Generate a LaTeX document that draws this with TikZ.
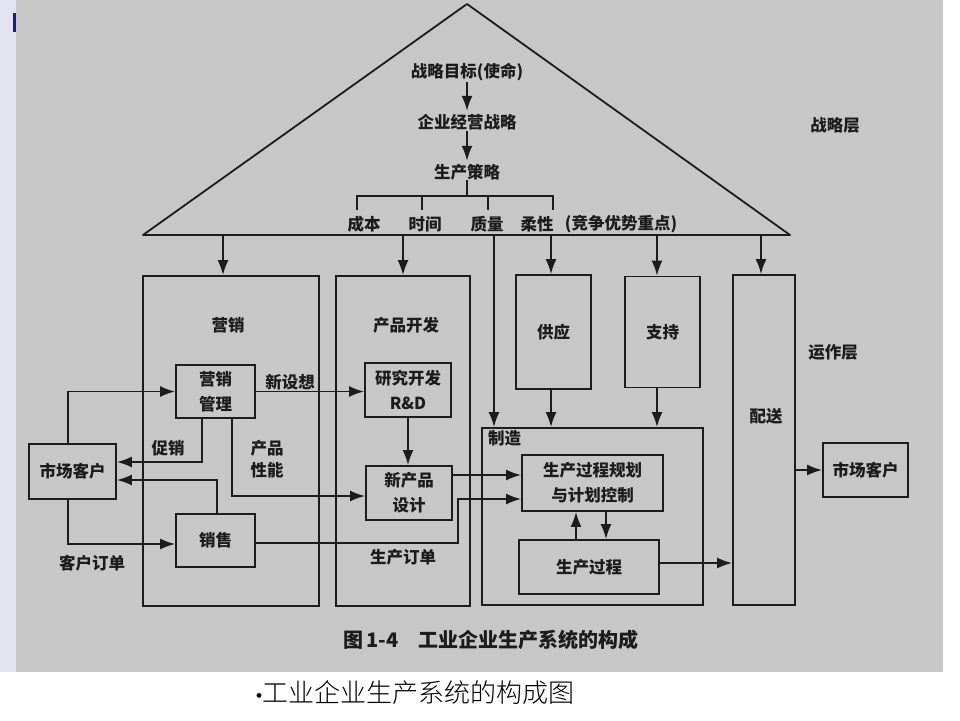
\documentclass[tikz,border=0pt]{standalone}
\usepackage{fontspec}
\setmainfont{Noto Sans CJK SC}
\newfontfamily\cjklight{Noto Sans CJK SC Light}
\newfontfamily\bulletfont{Liberation Serif}
\usetikzlibrary{arrows.meta}
\definecolor{scan}{RGB}{199,199,199}
\definecolor{ink}{RGB}{28,28,28}
\definecolor{strip}{RGB}{228,228,240}
\definecolor{markblue}{RGB}{30,30,120}
\newcommand\dgfont{\fontsize{16.5}{25}\selectfont\bfseries}
\begin{document}
\begin{tikzpicture}[x=1pt,y=-1pt,
  ln/.style={draw=ink, line width=1.8pt},
  arr/.style={ln, -{Latex[length=15pt,width=11pt]}},
  box/.style={draw=ink, line width=1.8pt, rectangle, inner sep=0pt, align=center, font=\dgfont, text=ink},
  lbl/.style={font=\dgfont, inner sep=0pt, align=center, text=ink},
]
\useasboundingbox (0,0) rectangle (960,720);
% background
\fill[white] (0,0) rectangle (960,720);
\fill[strip] (0,0) rectangle (16,672);
\fill[markblue] (13,13) rectangle (16,32);
\fill[scan] (16,0) rectangle (943,672);

% strategy triangle
\draw[ln, line join=round] (143,235) -- (467,4) -- (790,235) -- cycle;
\coordinate (tribase) at (0,235);
\node[lbl] (goal) at (467,72) {战略目标(使命)};
\node[lbl] (biz) at (467,122) {企业经营战略};
\node[lbl] (prodstr) at (467,172) {生产策略};
\draw[arr, shorten >=3pt, shorten <=1pt] (goal.south) -- (biz.north);
\draw[arr, shorten >=3pt, shorten <=1pt] (biz.south) -- (prodstr.north);
\coordinate (br) at (467,196);
\draw[ln] (prodstr.south) -- (br);
\draw[ln] (357,210) |- (553,196) -- (553,210);
\draw[ln] (422,196) -- (422,210);
\draw[ln] (488,196) -- (488,210);
\node[lbl] (cost) at (364,224) {成本};
\node[lbl] (time) at (425,224) {时间};
\node[lbl] (qual) at (487,224) {质量};
\node[lbl] (flex) at (537,224) {柔性};
\node[lbl] (comp) at (621,224) {(竞争优势重点)};
\node[lbl] (stratL) at (835,125) {战略层};
\node[lbl] (opL) at (833,352) {运作层};

% big boxes
\node[box, minimum width=176pt, minimum height=330pt] (mktg) at (231,441) {};
\node[lbl] (mktgL) at (228,325) {营销};
\node[box, minimum width=134pt, minimum height=330pt] (pdev) at (403,441) {};
\node[lbl] (pdevL) at (406,325) {产品开发};
\node[box, minimum width=75pt, minimum height=114pt] (supply) at (553.5,332) {供应};
\node[box, minimum width=75pt, minimum height=111pt] (support) at (662.5,332) {支持};
\node[box, minimum width=62pt, minimum height=330pt] (dist) at (764,440) {};
\node[lbl] (distL) at (766,416) {配送};
\node[box, minimum width=221pt, minimum height=177pt] (mfg) at (592.5,516.5) {};
\node[lbl, anchor=west] (mfgL) at (488,438) {制造};

% small boxes
\node[box, minimum width=79pt, minimum height=53pt] (mgmt) at (215.5,391.5) {营销\\管理};
\node[box, minimum width=79pt, minimum height=53pt] (sales) at (215.5,540.5) {销售};
\node[box, minimum width=86pt, minimum height=54pt] (rd) at (408,390) {研究开发\\R\&D};
\node[box, minimum width=86pt, minimum height=54pt] (npd) at (409,493) {新产品\\设计};
\node[box, minimum width=87pt, minimum height=55pt] (custL) at (72.5,471.5) {市场客户};
\node[box, minimum width=85pt, minimum height=54pt] (custR) at (865.5,470) {市场客户};
\node[box, minimum width=141pt, minimum height=56pt] (plan) at (592.5,483) {生产过程规划\\与计划控制};
\node[box, minimum width=140pt, minimum height=54pt] (proc) at (589,567) {生产过程};

% arrows from the triangle base
\coordinate (x1) at (223,0);
\coordinate (x2) at (403,0);
\coordinate (x3) at (494,0);
\coordinate (x4) at (551,0);
\coordinate (x5) at (657,0);
\coordinate (x6) at (761,0);
\draw[arr] (x1 |- tribase) -- (x1 |- mktg.north);
\draw[arr] (x2 |- tribase) -- (x2 |- pdev.north);
\draw[arr] (x3 |- tribase) -- (x3 |- mfg.north);
\draw[arr] (x4 |- tribase) -- (x4 |- supply.north);
\draw[arr] (x5 |- tribase) -- (x5 |- support.north);
\draw[arr] (x6 |- tribase) -- (x6 |- dist.north);
\draw[arr] (x4 |- supply.south) -- (x4 |- mfg.north);
\draw[arr] (x5 |- support.south) -- (x5 |- mfg.north);

% marketing flows
\coordinate (cx) at (68,0);
\coordinate (py) at (202,0);
\coordinate (sy) at (217,0);
\coordinate (qy) at (232,0);
\draw[arr] (cx |- custL.north) |- (mgmt.west);
\draw[arr] (mgmt.east) -- (mgmt.east -| rd.west);
\node[lbl] (idea) at (290,382) {新设想};
\draw[arr] (rd.south) -- (rd.south |- npd.north);
\draw[arr] (py |- mgmt.south) |- ([yshift=9.5pt]custL.east);
\node[lbl] (promo) at (168,448) {促销};
\draw[arr] (sy |- sales.north) |- ([yshift=-8.5pt]custL.east);
\draw[arr] (qy |- mgmt.south) |- ([yshift=-3pt]npd.west);
\node[lbl, font=\fontsize{16.5}{22}\selectfont\bfseries] (perf) at (267,459) {产品\\性能};
\draw[arr] (cx |- custL.south) |- ([yshift=-3.5pt]sales.west);
\node[lbl] (corder) at (92,563) {客户订单};
\coordinate (po) at (458,499);
\draw[arr] ([yshift=-2.5pt]sales.east) -| (po) -- (po -| plan.west);
\node[lbl] (porder) at (403,557) {生产订单};
\coordinate (ny) at (0,475);
\draw[arr] (ny -| npd.east) -- (ny -| plan.west);

% manufacturing flows
\coordinate (pu) at (576,0);
\coordinate (pd) at (606,0);
\draw[arr] (pu |- proc.north) -- (pu |- plan.south);
\draw[arr] (pd |- plan.south) -- (pd |- proc.north);
\coordinate (r1) at (0,563);
\draw[arr] (r1 -| proc.east) -- (r1 -| dist.west);
\draw[arr] (dist.east |- custR.west) -- (custR.west);

% captions
\node[lbl, font=\fontsize{20}{24}\selectfont\bfseries] (fig) at (491,640) {图\,1-4\quad 工业企业生产系统的构成};
\node[inner sep=0pt, font=\cjklight\fontsize{26}{30}\selectfont, text=black] (title) at (415,693) {{\bulletfont\fontsize{20}{24}\selectfont •}工业企业生产系统的构成图};
\end{tikzpicture}
\end{document}
